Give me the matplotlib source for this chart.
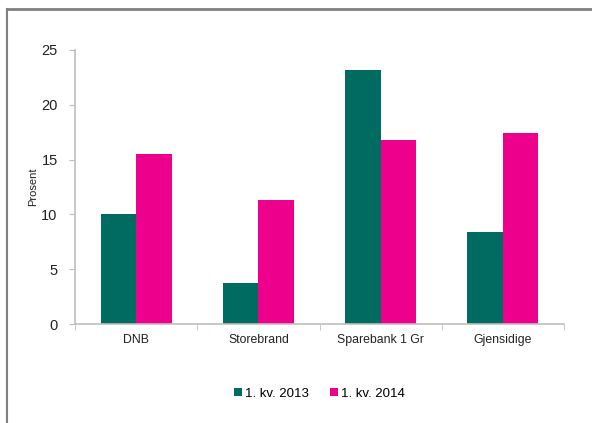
import numpy as np
import matplotlib.pyplot as plt
from matplotlib.lines import Line2D

categories = ["DNB", "Storebrand", "Sparebank 1 Gr", "Gjensidige"]
kv2013 = [10.0, 3.7, 23.2, 8.4]
kv2014 = [15.5, 11.3, 16.8, 17.4]
yticks = [0, 5, 10, 15, 20, 25]

plt.rcParams['font.family'] = ['Liberation Sans', 'DejaVu Sans']

fig = plt.figure(figsize=(5.92, 4.23), dpi=100, facecolor='white')
ax = fig.add_axes([0.1267, 0.234, 0.826, 0.648])

x = np.arange(len(categories))
w = 0.29
ax.bar(x - w/2, kv2013, w, color='#006B60', label='1. kv. 2013')
ax.bar(x + w/2, kv2014, w, color='#EC008C', label='1. kv. 2014')

ax.set_xlim(-0.5, len(categories) - 0.5)
ax.set_ylim(0, 25)
ax.set_yticks(yticks)
ax.set_yticklabels([str(t) for t in yticks], fontsize=10.5, color='#222222')
ax.set_ylabel('Prosent', fontsize=8, color='#222222', labelpad=2)

ax.set_xticks(x)
ax.set_xticklabels(categories, fontsize=8.8, color='#222222')
ax.tick_params(axis='x', length=0, pad=7)
ax.set_xticks(np.arange(len(categories) + 1) - 0.5, minor=True)
ax.tick_params(axis='x', which='minor', length=4, color='#BFBFBF', direction='out')
ax.tick_params(axis='y', length=4, color='#BFBFBF', direction='out', pad=8.5)

for s in ['top', 'right']:
    ax.spines[s].set_visible(False)
for s in ['left', 'bottom']:
    ax.spines[s].set_color('#BFBFBF')
    ax.spines[s].set_linewidth(1.2)

ax.legend(loc='center', bbox_to_anchor=(0.5, -0.255), ncol=2, frameon=False,
          fontsize=9.5, handlelength=0.6, handleheight=0.6, handletextpad=0.25,
          columnspacing=1.6)

# outer frame (top and left edges)
fig.add_artist(Line2D([6.5/592, 1], [1 - 9/423, 1 - 9/423], transform=fig.transFigure,
                      color='#808080', linewidth=2))
fig.add_artist(Line2D([6.5/592, 6.5/592], [0, 1 - 9/423], transform=fig.transFigure,
                      color='#808080', linewidth=1.5))

fig.savefig('out.png', dpi=100, facecolor='white')
